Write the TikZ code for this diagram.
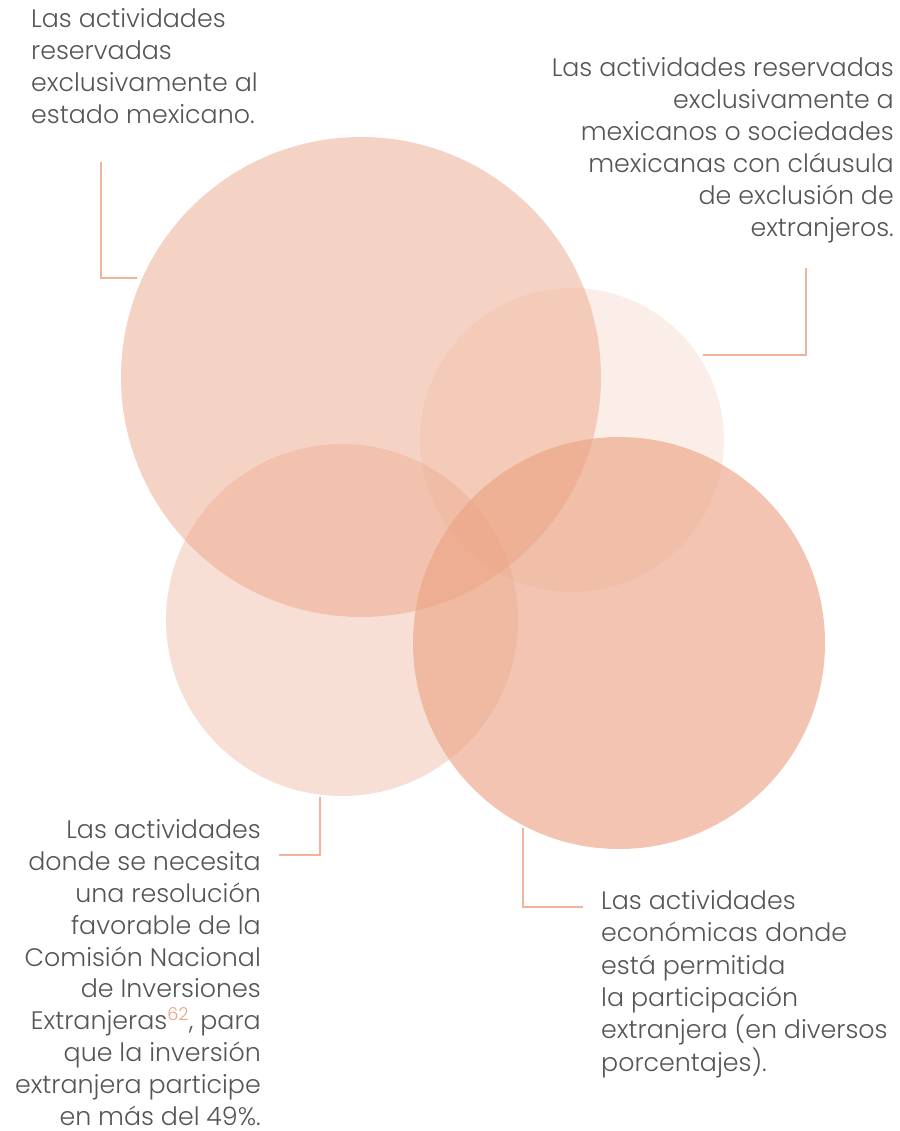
\documentclass[tikz,border=0pt]{standalone}
\usepackage{fontspec}
\setmainfont{Poppins}[UprightFont={* Light}]
\definecolor{txt}{HTML}{555555}
\definecolor{salmon}{HTML}{EBA283}
\definecolor{linec}{HTML}{F0B49A}
\begin{document}
\begin{tikzpicture}[x=1pt,y=-1pt,
  lbl/.style={inner sep=0pt, text=txt, font=\fontsize{25.3}{32}\selectfont},
  conn/.style={draw=linec, line width=2.2pt},
  bubble/.style={fill=salmon, draw=none}]
\useasboundingbox (0,0) rectangle (899,1131);
% circles
\fill[bubble, fill opacity=0.48] (361,377) circle (240);
\fill[bubble, fill opacity=0.18] (572,440) circle (152);
\fill[bubble, fill opacity=0.34] (342,620) circle (176);
\fill[bubble, fill opacity=0.63] (619,643) circle (206);
\coordinate (c1) at (137,278);
\coordinate (c2) at (703,355);
\coordinate (c3) at (320,797);
\coordinate (c4) at (523,828);
% labels (base anchor = last line baseline)
\node[lbl, anchor=base west, align=left] (t1) at (31,124)
  {Las actividades\\reservadas\\exclusivamente al\\estado mexicano.};
\node[lbl, anchor=base east, align=right] (t2) at (894,237)
  {Las actividades reservadas\\exclusivamente a\\mexicanos o sociedades\\mexicanas con cláusula\\de exclusión de\\extranjeros.};
\node[lbl, anchor=base east, align=right, font=\fontsize{25.3}{31.8}\selectfont] (t3) at (261,1125)
  {Las actividades\\donde se necesita\\una resolución\\favorable de la\\Comisión Nacional\\de Inversiones\\Extranjeras\textcolor{salmon}{\textsuperscript{62}}, para\\que la inversión\\extranjera participe\\en más del 49\%.};
\node[lbl, anchor=base west, align=left, font=\fontsize{25.3}{32.3}\selectfont] (t4) at (601,1071)
  {Las actividades\\económicas donde\\está permitida\\la participación\\extranjera (en diversos\\porcentajes).};
% connectors
\coordinate (k1) at (101,162);
\coordinate (k2) at (806,268);
\coordinate (k3) at (279,855);
\coordinate (k4) at (583,907);
\draw[conn] (k1) |- (c1);
\draw[conn] (k2) |- (c2);
\draw[conn] (k3) -| (c3);
\draw[conn] (c4) |- (k4);
\end{tikzpicture}
\end{document}
